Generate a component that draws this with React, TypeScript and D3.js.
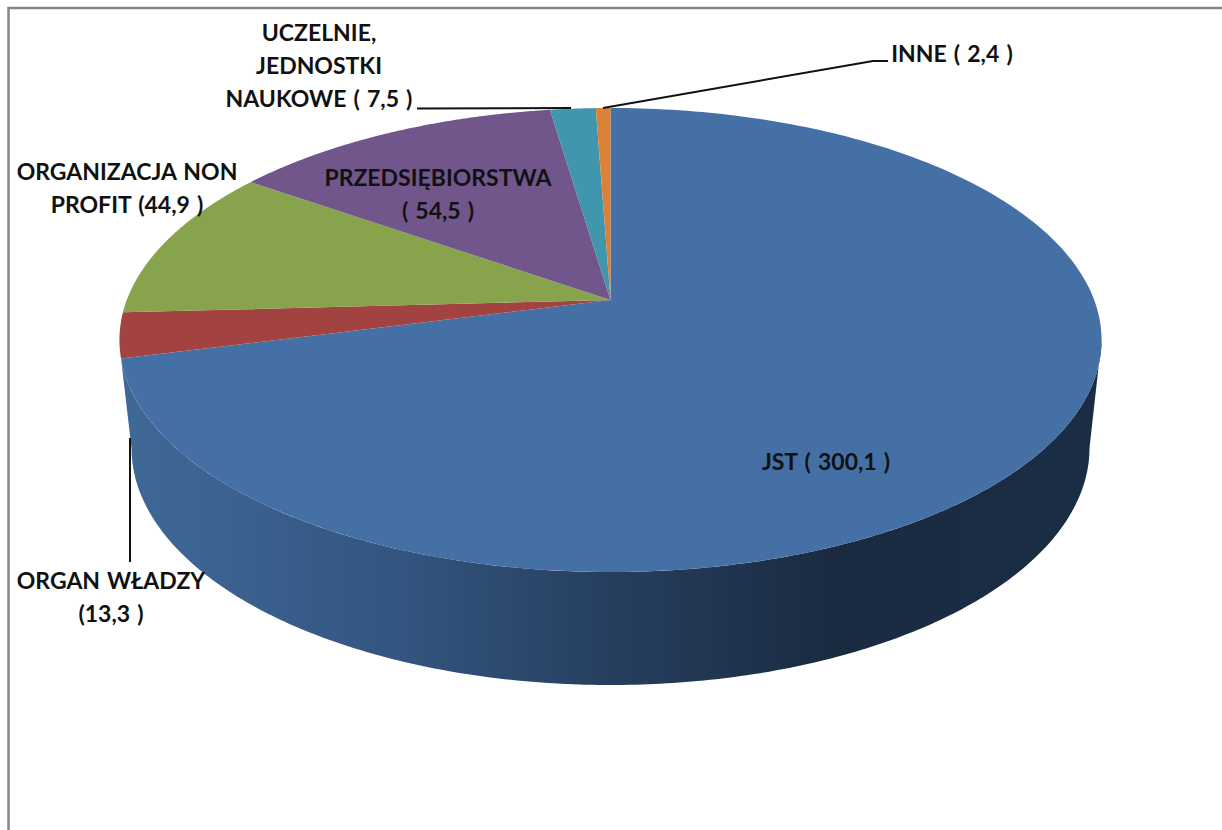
import React from "react";
import * as d3 from "d3";

const categories = ["JST", "ORGAN WŁADZY", "ORGANIZACJA NON PROFIT", "PRZEDSIĘBIORSTWA", "UCZELNIE, JEDNOSTKI NAUKOWE", "INNE"];
const values = [300.1, 13.3, 44.9, 54.5, 7.5, 2.4];
const colors = ["#4570A6", "#A34341", "#87A34C", "#71568C", "#3F96AD", "#DB8138"];
const labelLines = [
  { lines: ["JST ( 300,1 )"], x: 826, y: 470 },
  { lines: ["ORGAN WŁADZY", "(13,3 )"], x: 111, y: 589 },
  { lines: ["ORGANIZACJA NON", "PROFIT (44,9 )"], x: 127, y: 180 },
  { lines: ["PRZEDSIĘBIORSTWA", "( 54,5 )"], x: 438, y: 186 },
  { lines: ["UCZELNIE,", "JEDNOSTKI", "NAUKOWE ( 7,5 )"], x: 319, y: 41 },
  { lines: ["INNE ( 2,4 )"], x: 952, y: 62 },
];
const leaders = [
  [[417, 108.5], [571, 108]],
  [[603, 108], [873, 61], [888, 61]],
  [[130, 438], [130, 562]],
];

// Perspective projection of the circular pie top onto the page
const apex = { x: 610.5, y: 300 };
const persp = { a: 225.1, b: 483.7, k: -0.1724 };
const project = (angle: number): [number, number] => {
  const u = Math.sin(angle);
  const v = -Math.cos(angle);
  const d = 1 + persp.k * v;
  return [apex.x + (persp.b * u) / d, apex.y + (persp.a * v) / d];
};
const base = { cx: 610.5, cy: 448, rx: 479, ry: 237 };

const pie = d3.pie<number>().sort(null).startAngle(0).endAngle(2 * Math.PI);
const arcs = pie(values);
const line = d3.line();

const sampleArc = (a0: number, a1: number, n = 240) =>
  d3.range(n + 1).map((i) => project(a0 + ((a1 - a0) * i) / n));

const slicePath = (a0: number, a1: number) =>
  line([[apex.x, apex.y], ...sampleArc(a0, a1)])! + "Z";

const sidePath = () => {
  const front = sampleArc(arcs[0].endAngle, Math.PI / 6, 500);
  let mi = 0;
  front.forEach((p, i) => {
    if (p[0] > front[mi][0]) mi = i;
  });
  const top = front.slice(0, mi + 1);
  const bottom = d3
    .range(241)
    .map((i): [number, number] => {
      const t = (Math.PI * i) / 240;
      return [base.cx + base.rx * Math.cos(t), base.cy + base.ry * Math.sin(t)];
    });
  return line([...top, ...bottom])! + "Z";
};

const sideStops = [
  [0, "#3F6897"],
  [0.12, "#3A608E"],
  [0.28, "#33557F"],
  [0.5, "#263F5F"],
  [0.73, "#1A2B41"],
  [1, "#1A2D44"],
];

export default function App() {
  return (
    <svg
      width={1222}
      height={830}
      viewBox="0 0 1222 830"
      style={{ position: "absolute", left: 0, top: 0, display: "block", background: "#fff" }}
    >
      <defs>
        <linearGradient id="side" gradientUnits="userSpaceOnUse" x1={131} x2={1089} y1={0} y2={0}>
          {sideStops.map(([o, c]) => (
            <stop key={String(o)} offset={o as number} stopColor={c as string} />
          ))}
        </linearGradient>
      </defs>
      <path d="M8.5 830V8H1222" fill="none" stroke="#868686" strokeWidth={2.5} />
      <path d={sidePath()} fill="url(#side)" />
      {arcs.map((d, i) => (
        <path key={categories[i]} d={slicePath(d.startAngle, d.endAngle)} fill={colors[i]} />
      ))}
      {leaders.map((pts, i) => (
        <path key={i} d={line(pts as [number, number][])!} fill="none" stroke="#111" strokeWidth={2} />
      ))}
      {labelLines.map((l, i) => (
        <text
          key={i}
          textAnchor="middle"
          fontFamily="Lato, 'Open Sans', sans-serif"
          fontWeight={700}
          fontSize={23}
          wordSpacing={1.5}
          fill="#111"
        >
          {l.lines.map((s, j) => (
            <tspan key={j} x={l.x} y={l.y + j * 33}>
              {s}
            </tspan>
          ))}
        </text>
      ))}
    </svg>
  );
}
